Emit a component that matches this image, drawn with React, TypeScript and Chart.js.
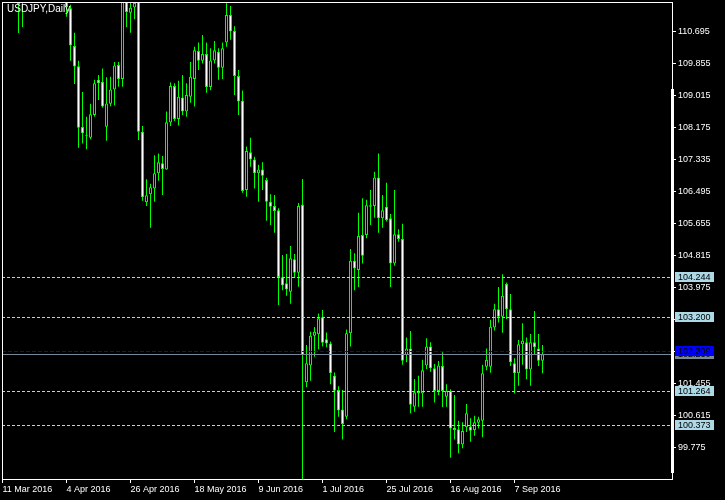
import React, { useEffect, useRef } from 'react';
import { Chart, registerables } from 'chart.js';

Chart.register(...registerables);

// USDJPY daily bars, 11 Mar 2016 onward (one entry per trading day)
const opens = [
  113.2, 113.8, 113.8, 113.2, 112.6, 111.6, 111.55, 111.9, 112.3, 112.4,
  113.0, 113.1, 113.5, 112.5, 112.6, 112.5, 111.7, 111.31, 110.32, 109.79,
  108.19, 107.96, 107.91, 108.51, 109.43, 109.38, 108.2, 108.8, 109.18, 109.82,
  109.45, 111.75, 111.19, 111.33, 111.7, 108.07, 106.22, 106.43, 106.58, 106.98,
  107.24, 107.08, 108.31, 109.27, 108.4, 108.97, 108.6, 108.99, 109.45, 110.19,
  109.93, 110.11, 109.24, 109.94, 110.17, 109.75, 110.41, 111.13, 110.71, 109.53,
  108.88, 106.54, 107.53, 107.34, 106.98, 107.08, 106.8, 106.23, 106.12, 106.01,
  104.25, 104.09, 103.87, 104.72, 104.37, 106.15, 101.49, 101.93, 102.71, 102.75,
  103.2, 102.62, 102.51, 101.66, 101.29, 100.78, 100.59, 102.78, 104.68, 104.44,
  105.36, 105.36, 106.14, 106.12, 106.87, 105.8, 106.1, 105.8, 104.61, 105.38,
  105.25, 102.21, 102.38, 100.85, 101.2, 101.2, 101.93, 102.43, 101.86, 101.26,
  101.92, 101.11, 101.26, 100.3, 100.26, 99.86, 100.31, 100.33, 100.24, 100.43,
  100.48, 101.9, 101.9, 102.93, 103.41, 103.21, 104.07, 103.41, 101.99, 101.73,
  102.49, 102.54, 101.83, 102.54, 102.38, 102.06,
];
const highs = [
  113.9, 114.1, 113.85, 113.8, 112.7, 111.95, 112.1, 112.5, 112.6, 113.2,
  113.2, 113.8, 113.8, 112.8, 112.7, 112.6, 111.9, 111.4, 110.67, 109.93,
  109.11, 108.46, 108.8, 109.43, 109.56, 109.73, 109.5, 109.51, 109.9, 109.9,
  111.85, 112.0, 111.6, 111.85, 111.85, 108.22, 106.82, 106.7, 107.45, 107.5,
  107.43, 108.6, 109.36, 109.34, 109.41, 109.56, 109.34, 109.9, 110.3, 110.41,
  110.61, 110.41, 110.26, 110.45, 110.26, 110.41, 111.44, 111.37, 110.84, 109.69,
  109.15, 107.68, 107.91, 107.41, 107.2, 107.27, 106.86, 106.43, 106.41, 106.06,
  104.83, 104.86, 105.07, 104.86, 106.2, 106.83, 102.47, 102.82, 102.94, 103.3,
  103.39, 102.8, 102.56, 101.75, 101.39, 101.29, 102.88, 104.99, 104.88, 105.94,
  106.32, 106.28, 106.54, 107.02, 107.5, 106.41, 106.73, 105.91, 106.54, 105.51,
  105.65, 102.67, 102.84, 101.58, 101.66, 102.08, 102.65, 102.54, 101.97, 102.05,
  102.28, 101.44, 101.31, 101.16, 100.48, 100.44, 100.92, 100.55, 100.61, 100.59,
  101.95, 102.38, 103.13, 103.55, 103.99, 104.33, 104.11, 103.81, 102.12, 102.6,
  103.04, 102.67, 102.76, 103.36, 102.76, 102.47,
];
const lows = [
  112.9, 113.4, 113.0, 112.6, 110.66, 110.82, 111.55, 111.6, 112.0, 112.3,
  112.8, 113.0, 112.4, 112.2, 112.3, 111.6, 111.09, 109.93, 109.32, 107.65,
  107.76, 107.61, 107.87, 108.46, 108.9, 108.7, 107.83, 108.74, 108.76, 109.25,
  109.25, 110.82, 110.67, 111.02, 107.85, 106.26, 106.12, 105.55, 106.23, 106.78,
  106.41, 107.07, 108.22, 108.35, 108.23, 108.51, 108.46, 108.83, 108.73, 109.69,
  109.86, 109.09, 109.16, 109.86, 109.43, 109.45, 110.3, 110.48, 109.03, 108.51,
  106.47, 106.36, 107.15, 106.58, 106.23, 106.54, 105.73, 105.62, 105.42, 103.52,
  103.91, 103.76, 103.55, 104.25, 104.0, 98.95, 101.36, 101.53, 102.16, 102.36,
  102.43, 102.41, 101.44, 100.19, 100.59, 99.99, 100.52, 102.43, 103.91, 103.99,
  104.61, 105.27, 105.62, 105.81, 105.42, 105.55, 105.71, 103.99, 104.55, 105.18,
  101.95, 102.02, 100.68, 100.72, 100.85, 100.85, 101.84, 101.77, 100.96, 101.16,
  100.84, 100.85, 99.51, 99.99, 99.63, 99.76, 100.19, 99.93, 100.09, 100.28,
  100.05, 101.81, 101.74, 102.85, 103.06, 102.79, 103.15, 101.92, 101.2, 101.4,
  101.95, 101.57, 101.4, 102.23, 101.92, 101.73,
];
const closes = [
  113.8, 113.8, 113.2, 112.6, 111.42, 111.55, 111.9, 112.3, 112.4, 113.0,
  113.1, 113.5, 112.5, 112.6, 112.5, 111.7, 111.34, 110.33, 109.78, 108.17,
  108.03, 107.98, 108.53, 109.34, 109.34, 108.73, 108.81, 109.18, 109.81, 109.45,
  111.75, 111.21, 111.32, 111.45, 108.07, 106.35, 106.4, 106.61, 106.98, 107.27,
  107.09, 108.32, 109.27, 108.4, 108.99, 108.6, 109.03, 109.51, 110.21, 109.93,
  110.11, 109.24, 109.94, 110.21, 109.75, 110.26, 111.13, 110.7, 109.53, 108.86,
  106.51, 107.56, 107.34, 106.98, 107.08, 106.91, 106.23, 106.1, 105.99, 104.25,
  104.03, 103.93, 104.75, 104.37, 106.12, 102.21, 101.99, 102.71, 102.82, 103.17,
  102.53, 102.51, 101.73, 101.27, 100.75, 100.4, 102.78, 104.68, 104.48, 105.33,
  104.81, 106.14, 106.1, 106.87, 105.8, 106.01, 105.75, 104.61, 105.38, 105.25,
  102.06, 102.38, 100.9, 101.23, 101.24, 101.81, 102.43, 101.86, 101.26, 101.93,
  101.26, 101.26, 100.28, 100.24, 99.86, 100.21, 100.68, 100.22, 100.44, 100.52,
  101.73, 102.08, 102.95, 103.41, 103.21, 103.76, 103.41, 102.02, 101.73, 102.49,
  102.58, 101.83, 102.54, 102.41, 102.06, 102.23,
];

// time axis labels (bar index → date)
const dateIdx = [0, 16, 32, 48, 64, 80, 96, 112, 128];
const dateLabels = [
  '11 Mar 2016', '4 Apr 2016', '26 Apr 2016', '18 May 2016', '9 Jun 2016',
  '1 Jul 2016', '25 Jul 2016', '16 Aug 2016', '7 Sep 2016',
];

// price axis labels
const priceTicks = [
  110.695, 109.855, 109.015, 108.175, 107.335, 106.495, 105.655,
  104.815, 103.975, 103.135, 102.295, 101.455, 100.615, 99.775,
];

// horizontal levels
const levels = [104.244, 103.2, 101.264, 100.373];
const pivot = 102.309;
const bid = closes[closes.length - 1];

const LIME = '#00FF00';
const LIGHT = '#ADD8E6';
const BLUE = '#0000FF';
const SLATE = '#778899';
const FONT = 'Liberation Sans';

const overlay = {
  id: 'overlay',
  afterDatasetsDraw(chart: any) {
    const { ctx, chartArea: a, scales } = chart;
    const y = scales.y;
    const hline = (v: number, color: string, dash: number[]) => {
      const py = Math.round(y.getPixelForValue(v)) + 0.5;
      ctx.beginPath();
      ctx.setLineDash(dash);
      ctx.strokeStyle = color;
      ctx.lineWidth = 1;
      ctx.moveTo(a.left, py);
      ctx.lineTo(a.right, py);
      ctx.stroke();
    };
    ctx.save();
    ctx.beginPath();
    ctx.rect(a.left, a.top, a.right - a.left, a.bottom - a.top);
    ctx.clip();
    levels.forEach((v) => hline(v, LIGHT, [3, 2]));
    hline(bid, SLATE, []);
    hline(pivot, BLUE, [4, 2]);
    ctx.restore();
  },
  afterDraw(chart: any) {
    const { ctx, chartArea: a, scales } = chart;
    const y = scales.y;
    ctx.save();
    // frame
    ctx.strokeStyle = '#FFFFFF';
    ctx.lineWidth = 1;
    ctx.setLineDash([]);
    ctx.strokeRect(a.left + 0.5, a.top + 0.5, a.right - a.left, a.bottom - a.top);
    ctx.fillStyle = '#FFFFFF';
    ctx.fillRect(a.right - 1, 89, 3, 384);

    // symbol caption
    ctx.font = `10px "${FONT}"`;
    ctx.textBaseline = 'top';
    ctx.textAlign = 'left';
    ctx.fillStyle = '#FFFFFF';
    ctx.fillText('USDJPY,Daily', 7, 4);

    // price tags on the right axis
    const tag = (v: number, bg: string) => {
      const py = Math.round(y.getPixelForValue(v));
      ctx.fillStyle = bg;
      ctx.fillRect(a.right + 3, py - 5, 39, 10);
      ctx.fillStyle = '#000000';
      ctx.font = `9px "${FONT}"`;
      ctx.textBaseline = 'middle';
      ctx.fillText(v.toFixed(3), a.right + 6, py + 0.5);
    };
    levels.forEach((v) => tag(v, LIGHT));
    tag(bid, SLATE);
    tag(pivot, BLUE);
    ctx.restore();
  },
};

export default function App() {
  const ref = useRef<HTMLCanvasElement>(null);

  useEffect(() => {
    const idx = opens.map((_, i) => i);
    const font = { family: FONT, size: 9 };
    const chart = new Chart(ref.current as HTMLCanvasElement, {
      type: 'bar',
      data: {
        datasets: [
          {
            label: 'range',
            data: idx.map((i) => ({ x: i, y: [lows[i], highs[i]] })) as any,
            backgroundColor: LIME,
            borderWidth: 0,
            barThickness: 1,
            grouped: false,
            inflateAmount: 0,
            order: 2,
          },
          {
            label: 'body',
            data: idx.map((i) => ({ x: i, y: [opens[i], closes[i]] })) as any,
            backgroundColor: idx.map((i) => (closes[i] < opens[i] ? '#FFFFFF' : '#000000')),
            borderColor: LIME,
            borderWidth: 1,
            borderSkipped: false,
            barThickness: 3,
            minBarLength: 1,
            grouped: false,
            inflateAmount: 0,
            order: 1,
          },
        ],
      },
      options: {
        responsive: false,
        animation: false,
        devicePixelRatio: 1,
        events: [],
        layout: { padding: { left: 2, top: 2, right: 0, bottom: 0 } },
        plugins: { legend: { display: false }, tooltip: { enabled: false } },
        scales: {
          x: {
            type: 'linear',
            min: -0.125,
            max: 167.375,
            offset: false,
            afterBuildTicks: (s: any) => {
              s.ticks = dateIdx.map((v) => ({ value: v }));
            },
            afterFit: (s: any) => {
              s.height = 21;
              s.paddingLeft = 0;
              s.paddingRight = 0;
            },
            ticks: {
              callback: (v: any) => dateLabels[dateIdx.indexOf(Number(v))] ?? '',
              color: '#FFFFFF',
              font,
              align: 'start',
              padding: 1,
              maxRotation: 0,
              autoSkip: false,
            },
            grid: { drawOnChartArea: false, drawTicks: true, tickLength: 4, color: '#FFFFFF', offset: false },
            border: { display: false },
          },
          y: {
            type: 'linear',
            position: 'right',
            min: 98.953,
            max: 111.474,
            afterBuildTicks: (s: any) => {
              s.ticks = priceTicks.map((v) => ({ value: v }));
            },
            afterFit: (s: any) => {
              s.width = 53;
              s.paddingTop = 0;
              s.paddingBottom = 0;
            },
            ticks: {
              callback: (v: any) => Number(v).toFixed(3),
              color: '#FFFFFF',
              font,
              padding: 2,
            },
            grid: { drawOnChartArea: false, drawTicks: true, tickLength: 4, color: '#FFFFFF' },
            border: { display: false },
          },
        },
      } as any,
      plugins: [overlay],
    });
    return () => chart.destroy();
  }, []);

  return (
    <div style={{ position: 'fixed', left: 0, top: 0, width: 725, height: 500, background: '#000000' }}>
      <canvas ref={ref} width={725} height={500} style={{ display: 'block' }} />
    </div>
  );
}
